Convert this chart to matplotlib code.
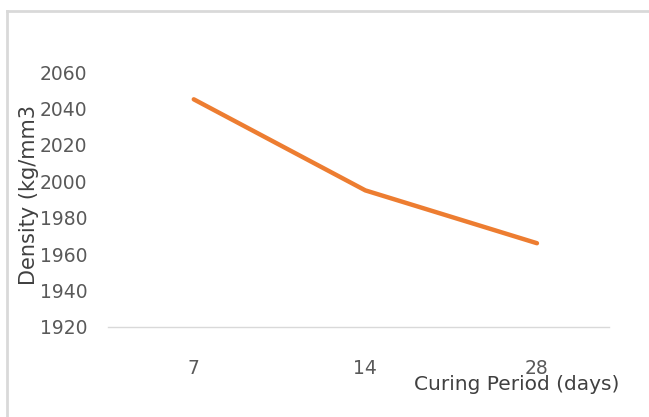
import matplotlib.pyplot as plt
from matplotlib.lines import Line2D

# curing period vs density
periods = ['7', '14', '28']
density = [2045, 1995, 1966]
y_ticks = [1920, 1940, 1960, 1980, 2000, 2020, 2040, 2060]

plt.rcParams['font.family'] = ['DejaVu Sans']
txt = '#595959'

fig = plt.figure(figsize=(6.49, 4.17), dpi=100)
ax = fig.add_axes([108 / 649, 1 - 327 / 417, 501 / 649, 255 / 417])

x = range(len(periods))
ax.plot(x, density, color='#ed7d31', lw=3.2, solid_capstyle='round')

ax.set_xlim(-0.5, 2.42)
ax.set_ylim(y_ticks[0], y_ticks[-1])
ax.set_yticks(y_ticks)
ax.set_xticks(list(x))
ax.set_xticklabels(periods)
ax.tick_params(axis='y', length=0, pad=15, labelsize=13.5, labelcolor=txt)
ax.tick_params(axis='x', length=0, pad=23, labelsize=13.5, labelcolor=txt)

for s in ['top', 'right', 'left']:
    ax.spines[s].set_visible(False)
ax.spines['bottom'].set_color('#d9d9d9')
ax.spines['bottom'].set_linewidth(1)

ax.set_ylabel('Density (kg/mm3', fontsize=15, color='#404040')
ax.yaxis.set_label_coords((29 - 108) / 501, (327 - 195) / 255)
ax.yaxis.label.set_va('center')
fig.text(619 / 649, 1 - 384 / 417, 'Curing Period (days)', fontsize=14.5,
         color='#404040', ha='right', va='center')

# chart frame
fig.add_artist(Line2D([7 / 649, 1], [1 - 11 / 417] * 2, color='#d9d9d9', lw=2,
                      transform=fig.transFigure))
fig.add_artist(Line2D([7 / 649] * 2, [0, 1 - 11 / 417], color='#d9d9d9', lw=2,
                      transform=fig.transFigure))

fig.savefig('out.png', dpi=100)
